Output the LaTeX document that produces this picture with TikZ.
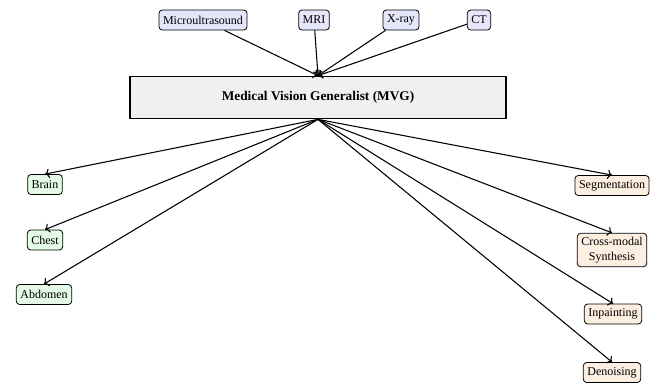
\documentclass[tikz,border=0pt]{standalone}
\usepackage{fontspec}
\setmainfont{Liberation Serif}
\usetikzlibrary{arrows.meta, positioning}
\definecolor{inblue}{RGB}{230,230,250}
\definecolor{organgreen}{RGB}{228,250,228}
\definecolor{taskorange}{RGB}{253,238,226}
\definecolor{coregray}{RGB}{240,240,240}

\begin{document}
\begin{tikzpicture}[
    x=0.75pt, y=-0.75pt,
    box/.style={draw, rounded corners=2.5pt, minimum height=15pt, inner sep=3pt, font=\small, align=center, semithick},
    inbox/.style={box, fill=inblue},
    organbox/.style={box, fill=organgreen},
    taskbox/.style={box, fill=taskorange},
    corebox/.style={draw, fill=coregray, minimum width=282pt, minimum height=32pt, font=\normalsize\bfseries, thick},
    arrow/.style={->, thick},
  ]
  \useasboundingbox (0,0) rectangle (662,383);
  % inputs
  \node[inbox] (micro) at (203,20) {Microultrasound};
  \node[inbox] (mri) at (314,20) {MRI};
  \node[inbox] (xray) at (401,20) {X-ray};
  \node[inbox] (ct) at (479,20) {CT};
  % generalist model
  \node[corebox] (mvg) at (318,97.5) {Medical Vision Generalist (MVG)};
  % organs
  \node[organbox] (brain) at (45,184.5) {Brain};
  \node[organbox] (chest) at (45,240) {Chest};
  \node[organbox] (abdomen) at (44,294.5) {Abdomen};
  % tasks
  \node[taskbox] (seg) at (612,185.5) {Segmentation};
  \node[taskbox] (synth) at (612,250) {Cross-modal\\Synthesis};
  \node[taskbox] (inpaint) at (613,314) {Inpainting};
  \node[taskbox] (denoise) at (612,372.5) {Denoising};
  \foreach \src in {micro, mri, xray, ct}
    \draw[arrow] (\src) -- (mvg.north);
  \foreach \dst in {brain, chest, abdomen, seg, synth, inpaint, denoise}
    \draw[arrow] (mvg.south) -- (\dst.north);
\end{tikzpicture}
\end{document}
